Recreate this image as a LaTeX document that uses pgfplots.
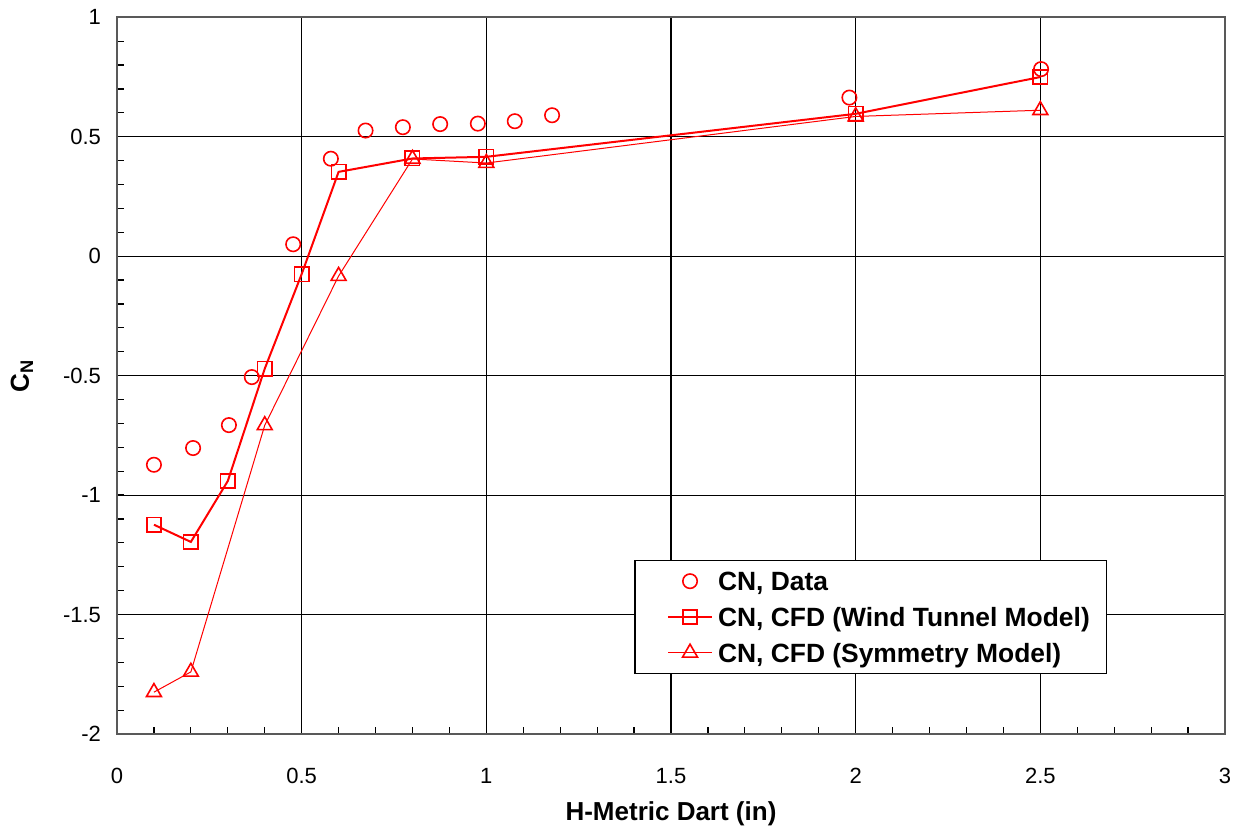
\documentclass[border=0pt]{standalone}
\usepackage{fontspec}
\setmainfont{Liberation Sans}
\usepackage{pgfplots}
\pgfplotsset{compat=1.18}
\begin{document}
\begin{tikzpicture}
\path[use as bounding box] (-58.5pt,-50.5pt) rectangle (562.5pt,367pt);
\begin{axis}[
  scale only axis,
  width=554pt, height=358.35pt,
  xmin=0, xmax=3, ymin=-2, ymax=1,
  xtick={0,0.5,...,3}, ytick={-2,-1.5,...,1},
  minor tick num=4,
  tick pos=left, tick align=inside,
  major tick length=3.3pt, minor tick length=3.3pt,
  every tick/.style={black, line width=0.6pt},
  grid=major,
  major grid style={black, line width=0.55pt},
  axis line style={black!65, line width=1pt},
  /pgf/number format/assume math mode=true,
  ticklabel style={font=\fontsize{11}{13}\selectfont},
  xticklabel style={yshift=-13.5pt},
  yticklabel style={xshift=-4.5pt},
  xlabel={H-Metric Dart (in)},
  ylabel={C\textsubscript{N}},
  xlabel style={at={(axis description cs:0.5,0)}, anchor=north, yshift=-30.5pt, font=\fontsize{13}{15}\selectfont\bfseries},
  ylabel style={at={(axis description cs:0,0.5)}, anchor=center, yshift=47.5pt, font=\fontsize{13}{15}\selectfont\bfseries},
  legend style={at={(axis cs:1.401,-1.272)}, anchor=north west, draw=black, line width=0.6pt, fill=white,
    font=\fontsize{13.2}{15}\selectfont\bfseries, row sep=3.4pt, column sep=1.5pt, inner xsep=7.5pt, inner ysep=3pt,
    nodes={inner sep=1pt, text height=11pt, text depth=1.5pt}},
  legend cell align=left,
  legend image code/.code={\path (0pt,0pt); \draw[mark repeat=2,mark phase=2,#1] plot coordinates {(8.5pt,0pt) (19.5pt,0pt) (30.5pt,0pt)};},
]
\addplot[only marks, red, mark=o, mark size=3.6pt, mark options={line width=0.8pt}] coordinates {
(0.1,-0.873) (0.206,-0.803) (0.303,-0.707) (0.365,-0.506) (0.477,0.050) (0.579,0.408)
(0.673,0.526) (0.774,0.540) (0.875,0.553) (0.977,0.555) (1.077,0.565) (1.178,0.590)
(1.983,0.664) (2.502,0.783)};
\addlegendentry{CN, Data}
\addplot[red, line width=1pt, mark=square, mark size=3.6pt, mark options={line width=0.8pt}] coordinates {
(0.1,-1.124) (0.2,-1.196) (0.3,-0.941) (0.4,-0.471) (0.5,-0.075) (0.6,0.353)
(0.8,0.409) (1.0,0.416) (2.0,0.596) (2.5,0.750)};
\addlegendentry{CN, CFD (Wind Tunnel Model)}
\addplot[red, line width=0.5pt, mark=triangle, mark size=4.3pt, mark options={line width=0.8pt}] coordinates {
(0.1,-1.825) (0.2,-1.74) (0.4,-0.708) (0.6,-0.083) (0.8,0.407) (1.0,0.39) (2.0,0.585) (2.5,0.611)};
\addlegendentry{CN, CFD (Symmetry Model)}
\end{axis}
\end{tikzpicture}
\end{document}
